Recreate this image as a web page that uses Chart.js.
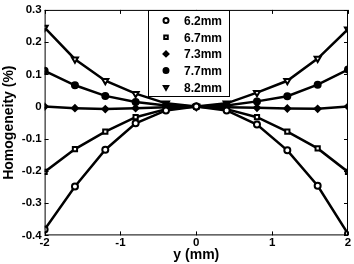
<!DOCTYPE html>
<html>
<head>
<meta charset="utf-8">
<script src="https://cdn.jsdelivr.net/npm/chart.js@4.4.1/dist/chart.umd.min.js"></script>
<style>
  html, body { margin: 0; padding: 0; background: #fff; }
  #wrap { width: 354px; height: 264px; }
</style>
</head>
<body>
<div id="wrap"><canvas id="chart" width="354" height="264"></canvas></div>
<script>
const xValues = [-2, -1.6, -1.2, -0.8, -0.4, 0, 0.4, 0.8, 1.2, 1.6, 2];
const labels = ["6.2mm", "6.7mm", "7.3mm", "7.7mm", "8.2mm"];
const s62 = [-0.382, -0.248, -0.134, -0.052, -0.012, 0, -0.012, -0.056, -0.136, -0.246, -0.395];
const s67 = [-0.203, -0.132, -0.078, -0.033, -0.008, 0, -0.008, -0.033, -0.078, -0.130, -0.203];
const s73 = [0, -0.005, -0.008, -0.005, -0.002, 0, -0.002, -0.004, -0.006, -0.007, 0];
const s77 = [0.111, 0.066, 0.033, 0.014, 0.003, 0, 0.003, 0.016, 0.032, 0.068, 0.115];
const s82 = [0.245, 0.147, 0.080, 0.040, 0.010, 0, 0.010, 0.043, 0.080, 0.149, 0.240];
const yTicks = [-0.4, -0.3, -0.2, -0.1, 0, 0.1, 0.2, 0.3];
const xTicks = [-2, -1, 0, 1, 2];

const FONT = "'Liberation Sans', Arial, sans-serif";

function series(label, vals, style, fill, radius, rot) {
  return {
    label: label,
    data: vals.map((v, i) => ({ x: xValues[i], y: v })),
    borderColor: "#000",
    borderWidth: 2.5,
    pointStyle: style,
    pointRadius: radius,
    pointRotation: rot || 0,
    pointBackgroundColor: fill,
    pointBorderColor: "#000",
    pointBorderWidth: 2,
    tension: 0
  };
}

// box, inward ticks and in-plot legend, MATLAB style
const matlabBox = {
  id: "matlabBox",
  afterDraw(chart) {
    const ctx = chart.ctx, a = chart.chartArea;
    const xs = chart.scales.x, ys = chart.scales.y;
    ctx.save();
    ctx.strokeStyle = "#000";
    ctx.lineWidth = 1;
    ctx.strokeRect(a.left + 0.5, a.top + 0.5, a.right - a.left - 1, a.bottom - a.top - 1);
    ctx.beginPath();
    xTicks.forEach(t => {
      const px = Math.round(xs.getPixelForValue(t)) + 0.5;
      ctx.moveTo(px, a.bottom); ctx.lineTo(px, a.bottom - 4);
      ctx.moveTo(px, a.top); ctx.lineTo(px, a.top + 4);
    });
    yTicks.forEach(t => {
      const py = Math.round(ys.getPixelForValue(t)) + 0.5;
      ctx.moveTo(a.left, py); ctx.lineTo(a.left + 4, py);
      ctx.moveTo(a.right, py); ctx.lineTo(a.right - 4, py);
    });
    ctx.stroke();

    // legend
    const bx = 148.5, by = 10.5, bw = 81, bh = 86;
    ctx.fillStyle = "#fff";
    ctx.fillRect(bx, by, bw, bh);
    ctx.strokeRect(bx, by, bw, bh);
    ctx.font = "bold 12px " + FONT;
    ctx.textBaseline = "middle";
    chart.data.datasets.forEach((ds, i) => {
      const cy = 20.5 + i * 16.7;
      ctx.fillStyle = ds.pointBackgroundColor;
      ctx.strokeStyle = "#000";
      ctx.lineWidth = 2;
      Chart.helpers.drawPoint(ctx, {
        pointStyle: ds.pointStyle, radius: 2.5,
        rotation: ds.pointRotation, borderWidth: 2
      }, 166, cy);
      ctx.fillStyle = "#000";
      ctx.fillText(ds.label, 184, cy + 1);
    });
    ctx.restore();
  }
};

new Chart(document.getElementById("chart"), {
  type: "line",
  data: {
    datasets: [
      series(labels[0], s62, "circle", "#fff", 3),
      series(labels[1], s67, "rect", "#fff", 3),
      series(labels[2], s73, "rectRot", "#000", 3),
      series(labels[3], s77, "circle", "#000", 3),
      series(labels[4], s82, "triangle", "#fff", 3.5, 180)
    ]
  },
  options: {
    responsive: false,
    animation: false,
    layout: { padding: { top: 3, right: 6, left: 1, bottom: 0 } },
    plugins: { legend: { display: false }, tooltip: { enabled: false } },
    scales: {
      x: {
        type: "linear", min: -2, max: 2,
        afterBuildTicks: s => { s.ticks = xTicks.map(v => ({ value: v })); },
        grid: { display: false, drawTicks: false },
        border: { display: false },
        ticks: { color: "#000", font: { family: FONT, size: 11.5, weight: "bold" }, padding: 1, maxRotation: 0 },
        title: { display: true, text: "y (mm)", color: "#000", font: { family: FONT, size: 14, weight: "bold" }, padding: { top: -4, bottom: 0 } }
      },
      y: {
        type: "linear", min: -0.4, max: 0.3,
        afterBuildTicks: s => { s.ticks = yTicks.map(v => ({ value: v })); },
        grid: { display: false, drawTicks: false },
        border: { display: false },
        ticks: {
          color: "#000", font: { family: FONT, size: 11.5, weight: "bold" }, padding: 3,
          callback: v => { const r = Math.round(v * 10) / 10; return r === 0 ? "0" : r.toFixed(1); }
        },
        title: { display: true, text: "Homogeneity (%)", color: "#000", font: { family: FONT, size: 14, weight: "bold" }, padding: { top: 0, bottom: 1 } }
      }
    }
  },
  plugins: [matlabBox]
});
</script>
</body>
</html>
